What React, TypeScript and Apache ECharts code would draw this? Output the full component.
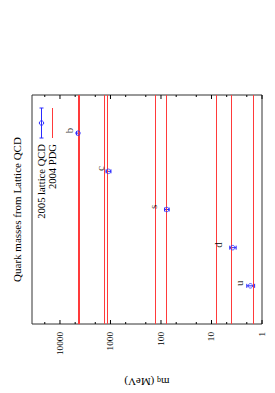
import React, { useEffect, useRef } from "react";
import * as echarts from "echarts";

// ---- data ----
const quarks = ["u", "d", "s", "c", "b"];
const quarkPos = [1, 2, 3, 4, 5];
const latticeMass = [1.7, 3.8, 77, 1100, 4400];
const latticeErr = [0.3, 0.55, 8, 120, 300];
const pdgLow = [1.5, 4, 80, 1150, 4100];
const pdgHigh = [4, 8, 130, 1350, 4400];
const labelMass = [2.8, 7.5, 145, 1600, 6700];
const labelPos = [1.07, 2.07, 3.07, 4.07, 5.07];
const majorTicks = [1, 10, 100, 1000, 10000];
const minorTicks = [2, 5, 20, 50, 200, 500, 2000, 5000, 20000];
const massMin = 1;
const massMax = 35800;
const posMin = 0;
const posMax = 6;

const SERIF = '"Liberation Serif", "Times New Roman", serif';
const BLUE = "#2a2aff";
const RED = "#ff3a3a";

export default function App() {
  const ref = useRef<HTMLDivElement>(null);
  useEffect(() => {
    if (!ref.current) return;
    const chart = echarts.init(ref.current, null, { renderer: "svg" });

    const tickData = [
      ...majorTicks.map((v) => [v, posMin, 1]),
      ...minorTicks.map((v) => [v, posMin, 0]),
    ];
    const errData = quarkPos.map((p, i) => [
      latticeMass[i],
      p,
      latticeMass[i] - latticeErr[i],
      latticeMass[i] + latticeErr[i],
    ]);
    const pointData = quarkPos.map((p, i) => [latticeMass[i], p]);
    const labelData = quarkPos.map((p, i) => ({
      value: [labelMass[i], labelPos[i]],
      name: quarks[i],
    }));
    const pdgValues = [...pdgLow, ...pdgHigh];

    const option: any = {
      animation: false,
      grid: {
        left: 32,
        top: 95,
        width: 230,
        height: 229,
        show: true,
        borderColor: "#333",
        borderWidth: 1,
        backgroundColor: "transparent",
      },
      xAxis: {
        type: "log",
        logBase: 10,
        min: massMin,
        max: massMax,
        inverse: true,
        axisLine: { show: false },
        axisTick: { show: false },
        splitLine: { show: false },
        axisLabel: {
          rotate: 90,
          margin: 8,
          fontSize: 9.2,
          fontFamily: SERIF,
          color: "#000",
          formatter: (v: number) => {
            const l = Math.log10(v);
            if (Math.abs(l - Math.round(l)) < 1e-6) return String(Math.round(v));
            return "";
          },
        },
        name: "{a|m}{b|q}{a| (MeV)}",
        nameLocation: "middle",
        nameRotate: 180,
        nameGap: 52,
        nameTextStyle: {
          fontFamily: SERIF,
          fontSize: 11,
          color: "#000",
          rich: {
            a: { fontFamily: SERIF, fontSize: 11, color: "#000" },
            b: { fontFamily: SERIF, fontSize: 8, color: "#000", padding: [0, 0, 0, 0], verticalAlign: "bottom" },
          },
        },
      },
      yAxis: {
        type: "value",
        min: posMin,
        max: posMax,
        show: false,
        splitLine: { show: false },
      },
      graphic: [
        {
          type: "text",
          x: 17,
          y: 209.5,
          rotation: Math.PI / 2,
          style: {
            text: "Quark masses from Lattice QCD",
            font: '11px "Liberation Serif"',
            fill: "#000",
            align: "center",
            verticalAlign: "middle",
          },
        },
        {
          type: "text",
          x: 41.5,
          y: 144,
          rotation: Math.PI / 2,
          style: {
            text: "2005 lattice QCD",
            font: '10.6px "Liberation Serif"',
            fill: "#000",
            align: "right",
            verticalAlign: "middle",
          },
        },
        {
          type: "text",
          x: 52.5,
          y: 144,
          rotation: Math.PI / 2,
          style: {
            text: "2004 PDG",
            font: '10.6px "Liberation Serif"',
            fill: "#000",
            align: "right",
            verticalAlign: "middle",
          },
        },
        { type: "line", shape: { x1: 41.5, y1: 108, x2: 41.5, y2: 138 }, style: { stroke: BLUE, lineWidth: 1 } },
        { type: "line", shape: { x1: 39.5, y1: 108, x2: 43.5, y2: 108 }, style: { stroke: BLUE, lineWidth: 1 } },
        { type: "line", shape: { x1: 39.5, y1: 138, x2: 43.5, y2: 138 }, style: { stroke: BLUE, lineWidth: 1 } },
        { type: "circle", shape: { cx: 41.5, cy: 123, r: 2.2 }, style: { stroke: BLUE, fill: "none", lineWidth: 1 } },
        { type: "line", shape: { x1: 52.5, y1: 108, x2: 52.5, y2: 138 }, style: { stroke: RED, lineWidth: 1 } },
      ],
      series: [
        {
          type: "custom",
          name: "ticks",
          clip: false,
          silent: true,
          data: tickData,
          z: 5,
          renderItem: (params: any, api: any) => {
            const v = api.value(0);
            const len = api.value(2) ? 4 : 2;
            const b = api.coord([v, posMin]);
            const t = api.coord([v, posMax]);
            return {
              type: "group",
              children: [
                { type: "line", shape: { x1: b[0], y1: b[1], x2: b[0], y2: b[1] - len }, style: { stroke: "#000", lineWidth: 1 } },
                { type: "line", shape: { x1: t[0], y1: t[1], x2: t[0], y2: t[1] + len }, style: { stroke: "#000", lineWidth: 1 } },
              ],
            };
          },
        },
        {
          type: "scatter",
          name: "2004 PDG",
          data: [],
          markLine: {
            silent: true,
            symbol: "none",
            label: { show: false },
            lineStyle: { color: RED, width: 1, type: "solid" },
            data: pdgValues.map((v) => ({ xAxis: v })),
          },
          z: 2,
        },
        {
          type: "custom",
          name: "2005 lattice QCD err",
          data: errData,
          z: 4,
          renderItem: (params: any, api: any) => {
            const y = api.value(1);
            const lo = api.coord([api.value(2), y]);
            const hi = api.coord([api.value(3), y]);
            const cap = 2;
            const st = { stroke: BLUE, lineWidth: 1 };
            return {
              type: "group",
              children: [
                { type: "line", shape: { x1: lo[0], y1: lo[1], x2: hi[0], y2: hi[1] }, style: st },
                { type: "line", shape: { x1: lo[0], y1: lo[1] - cap, x2: lo[0], y2: lo[1] + cap }, style: st },
                { type: "line", shape: { x1: hi[0], y1: hi[1] - cap, x2: hi[0], y2: hi[1] + cap }, style: st },
              ],
            };
          },
        },
        {
          type: "scatter",
          name: "2005 lattice QCD",
          data: pointData,
          symbol: "circle",
          symbolSize: 4.5,
          itemStyle: { color: "rgba(0,0,0,0)", borderColor: BLUE, borderWidth: 1 },
          z: 5,
        },
        {
          type: "scatter",
          name: "labels",
          data: labelData,
          symbolSize: 0,
          silent: true,
          label: {
            show: true,
            position: "inside",
            rotate: 90,
            formatter: (p: any) => p.name,
            fontFamily: SERIF,
            fontSize: 11,
            color: "#000",
          },
          z: 6,
        },
      ],
    };
    chart.setOption(option);
    return () => chart.dispose();
  }, []);
  return (
    <div
      ref={ref}
      style={{ position: "absolute", left: 0, top: 0, width: 275, height: 393 }}
    />
  );
}
